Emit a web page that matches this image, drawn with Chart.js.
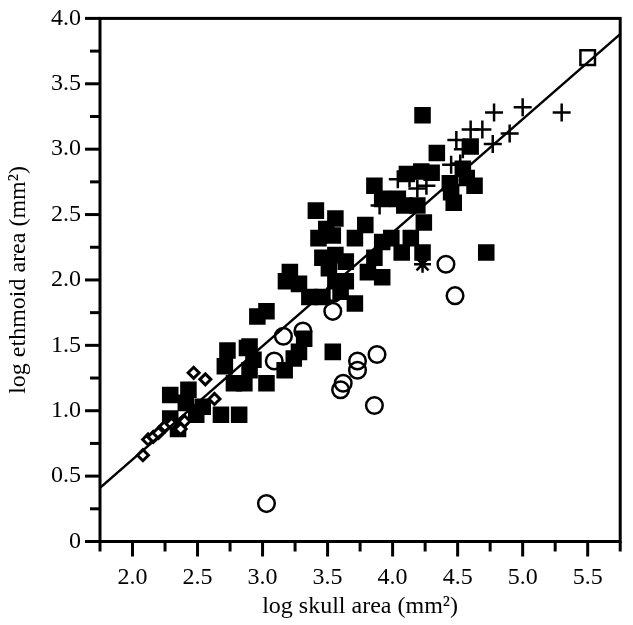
<!DOCTYPE html>
<html>
<head>
<meta charset="utf-8">
<script src="https://cdn.jsdelivr.net/npm/chart.js@4.4.0/dist/chart.umd.min.js"></script>
<style>
html,body{margin:0;padding:0;background:#fff;}
#wrap{width:633px;height:625px;}
</style>
</head>
<body>
<div id="wrap"><canvas id="c" width="633" height="625"></canvas></div>
<script>
// ---- data (log skull area, log ethmoid area) ----
const squareX = [4.23,4.34,4.60,4.54,4.57,4.63,4.44,4.45,4.47,4.11,4.22,4.30,3.86,3.92,4.04,4.09,4.19,4.24,4.72,4.07,4.23,4.14,
  3.41,3.56,3.49,3.43,3.54,3.71,3.92,3.99,3.79,3.46,3.56,3.64,3.51,3.86,3.92,3.81,3.21,3.18,3.28,3.36,3.46,3.71,3.56,3.64,3.60,
  3.03,2.96,3.32,2.90,3.28,3.54,3.24,3.17,2.73,2.88,2.93,2.90,2.71,2.78,2.86,3.03,2.68,2.82,2.29,2.43,2.41,2.49,2.29,2.35,2.54];
const squareY = [3.26,2.97,3.02,2.85,2.78,2.72,2.74,2.67,2.59,2.81,2.83,2.82,2.72,2.62,2.62,2.57,2.57,2.44,2.21,2.21,2.21,2.32,
  2.53,2.47,2.39,2.32,2.34,2.32,2.29,2.32,2.42,2.17,2.19,2.14,2.09,2.17,2.02,2.06,2.06,1.99,1.97,1.87,1.87,1.82,1.99,1.99,1.91,
  1.76,1.72,1.55,1.49,1.45,1.45,1.40,1.31,1.46,1.48,1.39,1.31,1.34,1.21,1.21,1.21,0.97,0.97,1.12,1.16,1.06,0.97,0.94,0.86,1.03];
const circleX = [3.03,3.09,3.16,3.31,3.54,3.55,3.60,3.62,3.73,3.73,3.88,3.86,4.41,4.48];
const circleY = [0.29,1.38,1.57,1.61,1.76,1.90,1.16,1.21,1.31,1.38,1.43,1.04,2.12,1.88];
const plusX = [5.30,5.00,4.78,4.90,4.77,4.60,4.69,4.49,4.54,4.52,4.45,4.04,4.13,4.19,4.26,3.90];
const plusY = [3.28,3.32,3.28,3.12,3.04,3.15,3.15,3.07,3.00,2.89,2.88,2.77,2.78,2.70,2.72,2.57];
const diamondX = [2.08,2.12,2.16,2.20,2.25,2.30,2.37,2.40,2.47,2.56,2.63];
const diamondY = [0.66,0.78,0.80,0.83,0.88,0.90,0.86,0.92,1.29,1.24,1.09];
const starX = [4.23];
const starY = [2.12];
const openSquareX = [5.50];
const openSquareY = [3.70];
const fitX = [1.75, 5.75];
const fitY = [0.41, 3.88];
const xTicks = [2.0,2.5,3.0,3.5,4.0,4.5,5.0,5.5];
const yTicks = [0,0.5,1.0,1.5,2.0,2.5,3.0,3.5,4.0];

const pts = (xs, ys) => xs.map((x, i) => ({x: x, y: ys[i]}));
const isMajor = v => Math.abs(v * 2 - Math.round(v * 2)) < 1e-6;
const FONT = "'Liberation Serif', 'Times New Roman', serif";

const frameTicks = {
  id: 'frameTicks',
  afterDatasetsDraw(chart) {
    const ctx = chart.ctx, a = chart.chartArea;
    const xs = chart.scales.x, ys = chart.scales.y;
    ctx.save();
    ctx.strokeStyle = '#000';
    ctx.lineWidth = 3;
    ctx.strokeRect(a.left, a.top, a.right - a.left, a.bottom - a.top);
    xs.ticks.forEach(t => {
      const px = xs.getPixelForValue(t.value);
      ctx.beginPath();
      ctx.moveTo(px, a.bottom);
      ctx.lineTo(px, a.bottom + (isMajor(t.value) ? 15 : 10));
      ctx.stroke();
    });
    ys.ticks.forEach(t => {
      const py = ys.getPixelForValue(t.value);
      ctx.beginPath();
      ctx.moveTo(a.left, py);
      ctx.lineTo(a.left - (isMajor(t.value) ? 15 : 10), py);
      ctx.stroke();
    });
    ctx.restore();
  }
};

new Chart(document.getElementById('c'), {
  type: 'scatter',
  data: {
    datasets: [
      {label: 'fit', type: 'line', data: pts(fitX, fitY), showLine: true, borderColor: '#000', borderWidth: 2.5, pointRadius: 0, fill: false, order: 0},
      {label: 'squares', data: pts(squareX, squareY), pointStyle: 'rect', pointRadius: 11.7, backgroundColor: '#000', borderWidth: 0, order: 6},
      {label: 'circles', data: pts(circleX, circleY), pointStyle: 'circle', pointRadius: 8.3, backgroundColor: 'rgba(0,0,0,0)', borderColor: '#000', borderWidth: 2.5, order: 5},
      {label: 'diamonds', data: pts(diamondX, diamondY), pointStyle: 'rectRot', pointRadius: 5.5, backgroundColor: '#fff', borderColor: '#000', borderWidth: 3, order: 4},
      {label: 'plus', data: pts(plusX, plusY), pointStyle: 'cross', pointRadius: 9, borderColor: '#000', borderWidth: 2.5, order: 3},
      {label: 'star', data: pts(starX, starY), pointStyle: 'star', pointRadius: 8.5, borderColor: '#000', borderWidth: 2.5, order: 2},
      {label: 'open square', data: pts(openSquareX, openSquareY), pointStyle: 'rect', pointRadius: 10.3, backgroundColor: 'rgba(0,0,0,0)', borderColor: '#000', borderWidth: 2.5, order: 1}
    ]
  },
  options: {
    responsive: false,
    animation: false,
    devicePixelRatio: 1,
    layout: {padding: {top: 9, right: 3, left: 0, bottom: 0}},
    plugins: {legend: {display: false}, tooltip: {enabled: false}},
    scales: {
      x: {
        type: 'linear', min: 1.75, max: 5.75,
        afterFit: s => { s.height = 83.5; },
        ticks: {
          stepSize: 0.25, autoSkip: false, maxRotation: 0, padding: 7,
          color: '#000', font: {family: FONT, size: 24},
          callback: v => (xTicks.some(t => Math.abs(t - v) < 1e-6) ? Number(v).toFixed(1) : '')
        },
        grid: {display: true, drawOnChartArea: false, drawTicks: true, tickLength: 15, color: 'rgba(0,0,0,0)'},
        border: {display: false},
        title: {display: true, text: 'log skull area (mm²)', color: '#000', font: {family: FONT, size: 24}, padding: {top: 0, bottom: 4}}
      },
      y: {
        type: 'linear', min: 0, max: 4,
        afterFit: s => { s.width = 100; },
        ticks: {
          stepSize: 0.25, autoSkip: false, padding: 4,
          color: '#000', font: {family: FONT, size: 24},
          callback: v => (yTicks.some(t => Math.abs(t - v) < 1e-6) ? (v === 0 ? '0' : Number(v).toFixed(1)) : '')
        },
        grid: {display: true, drawOnChartArea: false, drawTicks: true, tickLength: 15, color: 'rgba(0,0,0,0)'},
        border: {display: false},
        title: {display: true, text: 'log ethmoid area (mm²)', color: '#000', font: {family: FONT, size: 24}, padding: {top: 4, bottom: 0}}
      }
    }
  },
  plugins: [frameTicks]
});
</script>
</body>
</html>
